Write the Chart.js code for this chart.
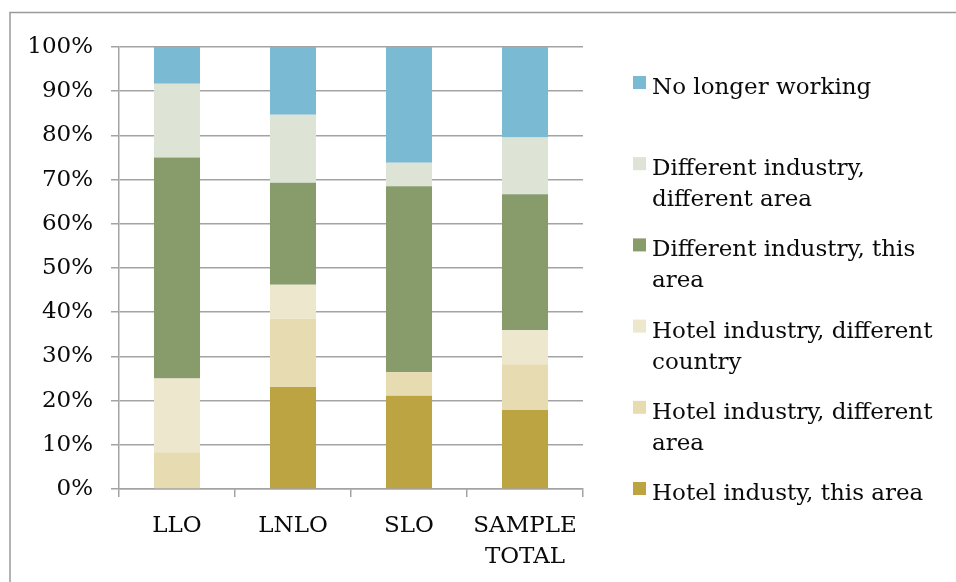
<!DOCTYPE html>
<html>
<head>
<meta charset="utf-8">
<script src="https://cdn.jsdelivr.net/npm/chart.js@4"></script>
<style>
  html, body { margin: 0; padding: 0; background: #fff; overflow: hidden; }
  #wrap { width: 956px; height: 582px; position: relative; }
</style>
</head>
<body>
<div id="wrap"><canvas id="c" width="956" height="582"></canvas></div>
<script>
// Categories along the x axis
const categories = ['LLO', 'LNLO', 'SLO', ['SAMPLE', 'TOTAL']];

// Share of respondents (%) for each destination, bottom to top of the stack
const hotelThisArea        = [0.0, 23.1, 21.1, 17.9];
const hotelDiffArea        = [8.3, 15.4, 5.3, 10.3];
const hotelDiffCountry     = [16.7, 7.7, 0.0, 7.7];
const otherIndThisArea     = [50.0, 23.1, 42.1, 30.8];
const otherIndDiffArea     = [16.7, 15.4, 5.3, 12.8];
const noLongerWorking      = [8.3, 15.4, 26.3, 20.5];

const seriesNames = [
  'Hotel industy, this area',
  'Hotel industry, different area',
  'Hotel industry, different country',
  'Different industry, this area',
  'Different industry, different area',
  'No longer working'
];
const seriesValues = [hotelThisArea, hotelDiffArea, hotelDiffCountry, otherIndThisArea, otherIndDiffArea, noLongerWorking];
const seriesColors = ['#bca443', '#e6dbb1', '#ede8cd', '#879b6b', '#dde3d5', '#7abad2'];

// Y axis tick values
const yTicks = [0, 10, 20, 30, 40, 50, 60, 70, 80, 90, 100];

const FONT = 'DejaVu Serif';
const GRID = '#a3a3a3';

// Outer frame: top and left edges (the others fall outside the canvas)
const framePlugin = {
  id: 'frame',
  beforeDraw(chart) {
    const ctx = chart.ctx;
    ctx.save();
    ctx.fillStyle = '#fff';
    ctx.fillRect(0, 0, chart.width, chart.height);
    ctx.strokeStyle = '#9a9a9a';
    ctx.lineWidth = 1.5;
    ctx.beginPath();
    ctx.moveTo(10, chart.height);
    ctx.lineTo(10, 12.5);
    ctx.lineTo(chart.width, 12.5);
    ctx.stroke();
    ctx.restore();
  }
};

// Legend on the right, last series first, labels wrapped to width
const sideLegend = {
  id: 'sideLegend',
  afterDraw(chart) {
    const ctx = chart.ctx;
    const ds = chart.data.datasets;
    const x0 = 633, top0 = 76, step = 81.2, box = 13;
    const textX = 652, maxW = 300, lineH = 31;
    ctx.save();
    ctx.font = '23px "' + FONT + '"';
    ctx.textBaseline = 'alphabetic';
    ctx.textAlign = 'left';
    for (let k = 0; k < ds.length; k++) {
      const d = ds[ds.length - 1 - k];
      const y = top0 + k * step;
      ctx.fillStyle = d.backgroundColor;
      ctx.fillRect(x0, y, box, box);
      // word wrap
      const words = d.label.split(' ');
      const lines = [];
      let cur = '';
      for (const w of words) {
        const t = cur ? cur + ' ' + w : w;
        if (cur && ctx.measureText(t).width > maxW) { lines.push(cur); cur = w; }
        else cur = t;
      }
      if (cur) lines.push(cur);
      ctx.fillStyle = '#0a0a0a';
      lines.forEach((ln, i) => ctx.fillText(ln, textX, y + 18 + i * lineH));
    }
    ctx.restore();
  }
};

const datasets = seriesNames.map((name, i) => ({
  label: name,
  data: seriesValues[i],
  backgroundColor: seriesColors[i],
  borderWidth: 0,
  categoryPercentage: 1.0,
  barPercentage: 0.397
}));

new Chart(document.getElementById('c'), {
  type: 'bar',
  data: { labels: categories, datasets },
  plugins: [framePlugin, sideLegend],
  options: {
    responsive: false,
    animation: false,
    events: [],
    layout: { padding: { left: 0, top: 47, right: 373, bottom: 0 } },
    plugins: { legend: { display: false }, tooltip: { enabled: false } },
    scales: {
      x: {
        stacked: true,
        afterFit(s) { s.height = 93; },
        grid: { offset: true, drawOnChartArea: false, drawTicks: true, tickLength: 8, color: GRID, lineWidth: 1.5 },
        border: { color: GRID, width: 1.5 },
        ticks: { color: '#0a0a0a', padding: 14, font: { family: FONT, size: 23, lineHeight: 1.32 }, maxRotation: 0, autoSkip: false }
      },
      y: {
        stacked: true,
        min: 0, max: 100,
        afterFit(s) { s.width = 119; },
        afterBuildTicks(s) { s.ticks = yTicks.map(v => ({ value: v })); },
        grid: { color: GRID, lineWidth: 1.5, tickLength: 8 },
        border: { color: GRID, width: 1.5 },
        ticks: { color: '#0a0a0a', padding: 18, font: { family: FONT, size: 23 }, callback: v => v + '%' }
      }
    }
  }
});
</script>
</body>
</html>
